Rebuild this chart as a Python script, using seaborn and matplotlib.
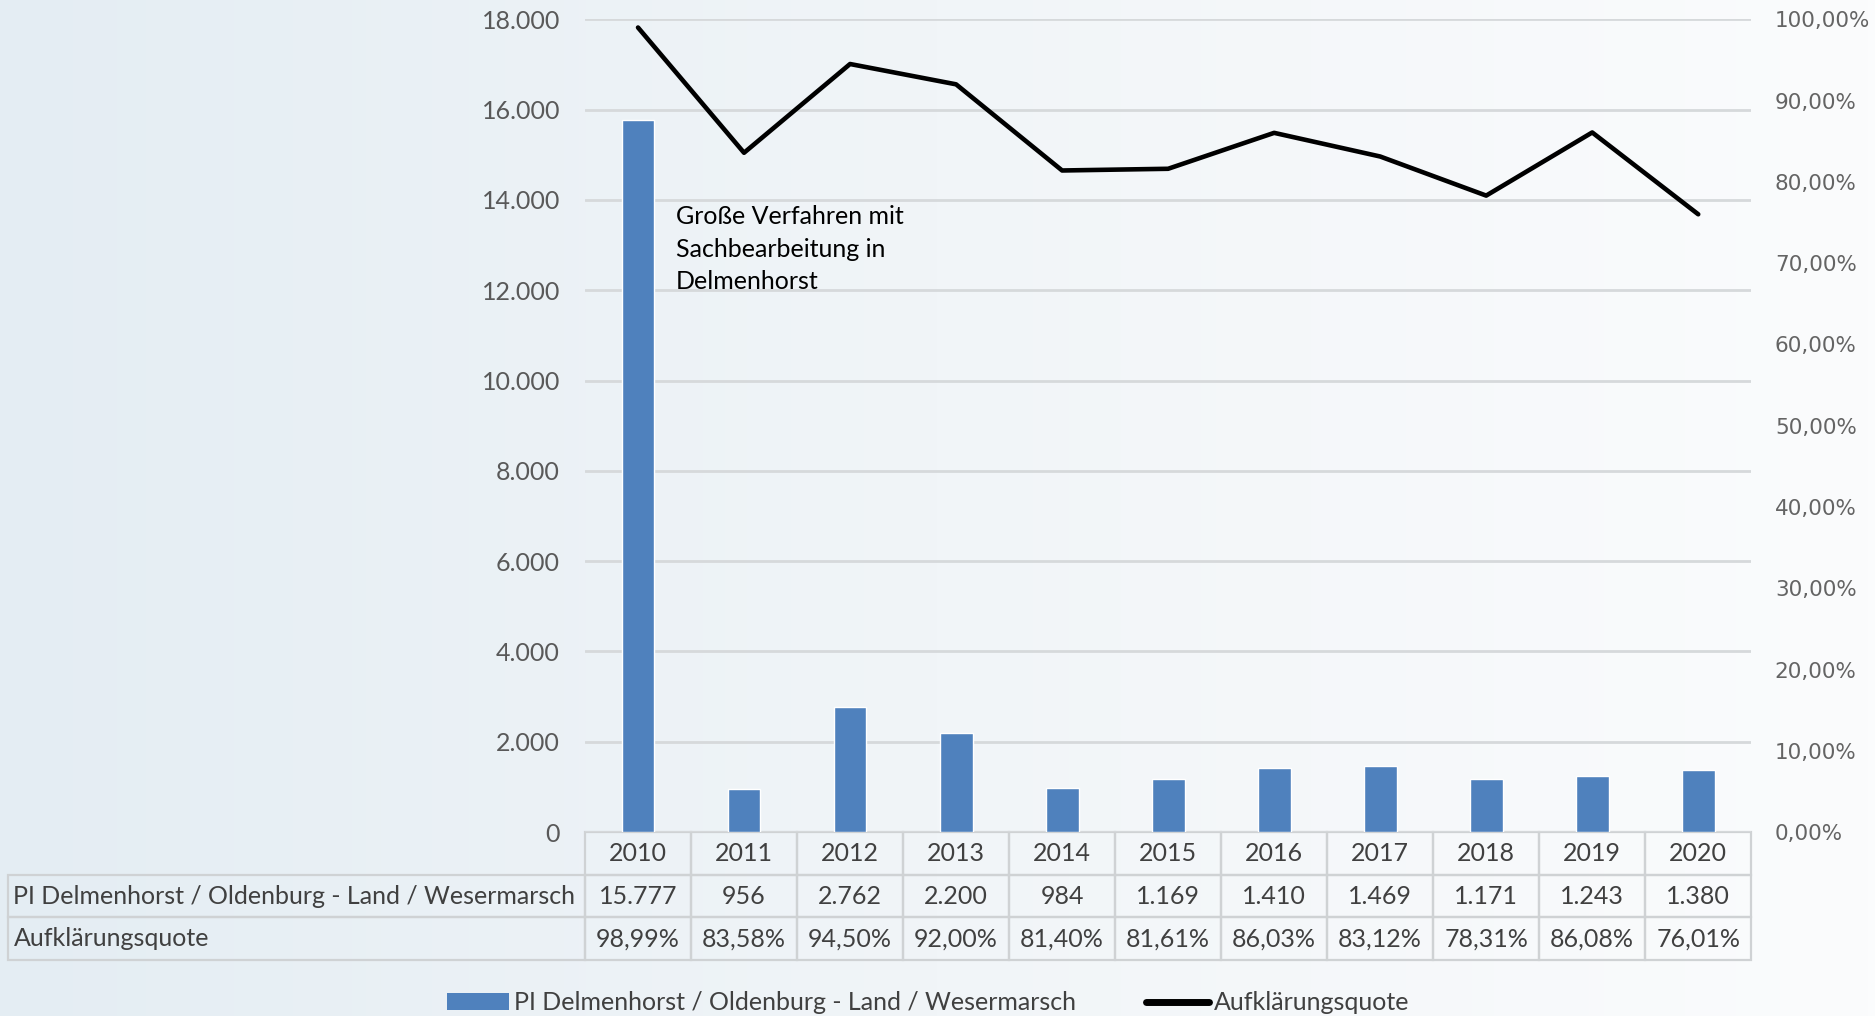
import numpy as np
import pandas as pd
import seaborn as sns
import matplotlib.pyplot as plt
from matplotlib.patches import Patch
from matplotlib.lines import Line2D
from matplotlib.table import Table
from matplotlib.ticker import FuncFormatter, MultipleLocator

# data
years = ['2010', '2011', '2012', '2013', '2014', '2015', '2016', '2017', '2018', '2019', '2020']
faelle = [15777, 956, 2762, 2200, 984, 1169, 1410, 1469, 1171, 1243, 1380]
quote = [98.99, 83.58, 94.50, 92.00, 81.40, 81.61, 86.03, 83.12, 78.31, 86.08, 76.01]
serie_name = 'PI Delmenhorst / Oldenburg - Land / Wesermarsch'
quote_name = 'Aufklärungsquote'
note = 'Große Verfahren mit\nSachbearbeitung in\nDelmenhorst'

df = pd.DataFrame({'Jahr': years, 'Faelle': faelle, 'Quote': quote})

sns.set_theme(style='white')
plt.rcParams['font.family'] = ['Lato', 'DejaVu Sans']

bar_color = '#4f81bd'
grid_color = '#d6d9db'
txt = '#404040'

fig = plt.figure(figsize=(18.75, 10.16), dpi=100)
fig.patch.set_facecolor('#f4f7f9')

# pale paper-like background
bg = fig.add_axes([0, 0, 1, 1], zorder=-10)
grad = np.linspace(0, 1, 256).reshape(1, -1)
bg.imshow(grad, aspect='auto', cmap=sns.blend_palette(['#e4edf3', '#f1f5f8', '#fbfcfd'], as_cmap=True),
          extent=[0, 1, 0, 1])
bg.axis('off')

ax = fig.add_axes([0.312, 0.181, 0.622, 0.800])
ax.set_facecolor('none')

sns.barplot(data=df, x='Jahr', y='Faelle', color=bar_color, saturation=1, width=0.31, ax=ax, zorder=3)
ax.set_xlim(-0.5, len(years) - 0.5)
ax.set_ylim(0, 18000)
ax.yaxis.set_major_locator(MultipleLocator(2000))
ax.yaxis.set_major_formatter(FuncFormatter(lambda v, p: f'{int(v):,}'.replace(',', '.')))
ax.grid(axis='y', color=grid_color, linewidth=2, zorder=0)
ax.set_axisbelow(True)
ax.set_xlabel('')
ax.set_ylabel('')
ax.set_xticklabels([])
ax.tick_params(axis='y', length=0, pad=18, labelsize=18, labelcolor='#595959')
ax.tick_params(axis='x', length=0)
for s in ax.spines.values():
    s.set_visible(False)

ax2 = ax.twinx()
sns.lineplot(x=np.arange(len(years)), y=df['Quote'], ax=ax2, color='black', linewidth=3.3, zorder=4)
ax2.set_ylim(0, 100)
ax2.yaxis.set_major_locator(MultipleLocator(10))
ax2.yaxis.set_major_formatter(FuncFormatter(lambda v, p: f'{v:.2f}%'.replace('.', ',')))
ax2.set_ylabel('')
ax2.tick_params(axis='y', length=0, pad=17, labelsize=15.5, labelcolor='#646464')
for lab in ax2.get_yticklabels():
    lab.set_fontfamily('DejaVu Sans')
for s in ax2.spines.values():
    s.set_visible(False)

ax.text(0.36, 13880, note, fontsize=18, color='black', va='top', ha='left',
        linespacing=1.5, zorder=5)

# data table below the plot
rows = [[''] + years,
        [serie_name] + [f'{v:,}'.replace(',', '.') for v in faelle],
        [quote_name] + [f'{v:.2f}%'.replace('.', ',') for v in quote]]
widths = [0.495] + [1 / 11] * 11
tbl = Table(ax, bbox=[-0.495, -0.1575, 1.495, 0.1575])
for r, row in enumerate(rows):
    for c, val in enumerate(row):
        cell = tbl.add_cell(r, c, width=widths[c], height=1, text=val,
                            loc='left' if c == 0 else 'center',
                            facecolor='none', edgecolor='#cfd2d4')
        cell.set_linewidth(1.6)
        cell.get_text().set_color(txt)
        if c == 0:
            cell.PAD = 0.01
        if r == 0 and c == 0:
            cell.set_visible(False)
tbl.auto_set_font_size(False)
tbl.set_fontsize(18)
ax.add_table(tbl)

handles = [Patch(facecolor=bar_color, edgecolor='none'),
           Line2D([0], [0], color='black', linewidth=5)]
fig.legend(handles, [serie_name, quote_name], loc='center', bbox_to_anchor=(0.495, 0.013),
           ncol=2, frameon=False, fontsize=18, handlelength=2.5, handletextpad=0.2,
           columnspacing=2.8, labelcolor=txt)

fig.savefig('out.png', dpi=100)
